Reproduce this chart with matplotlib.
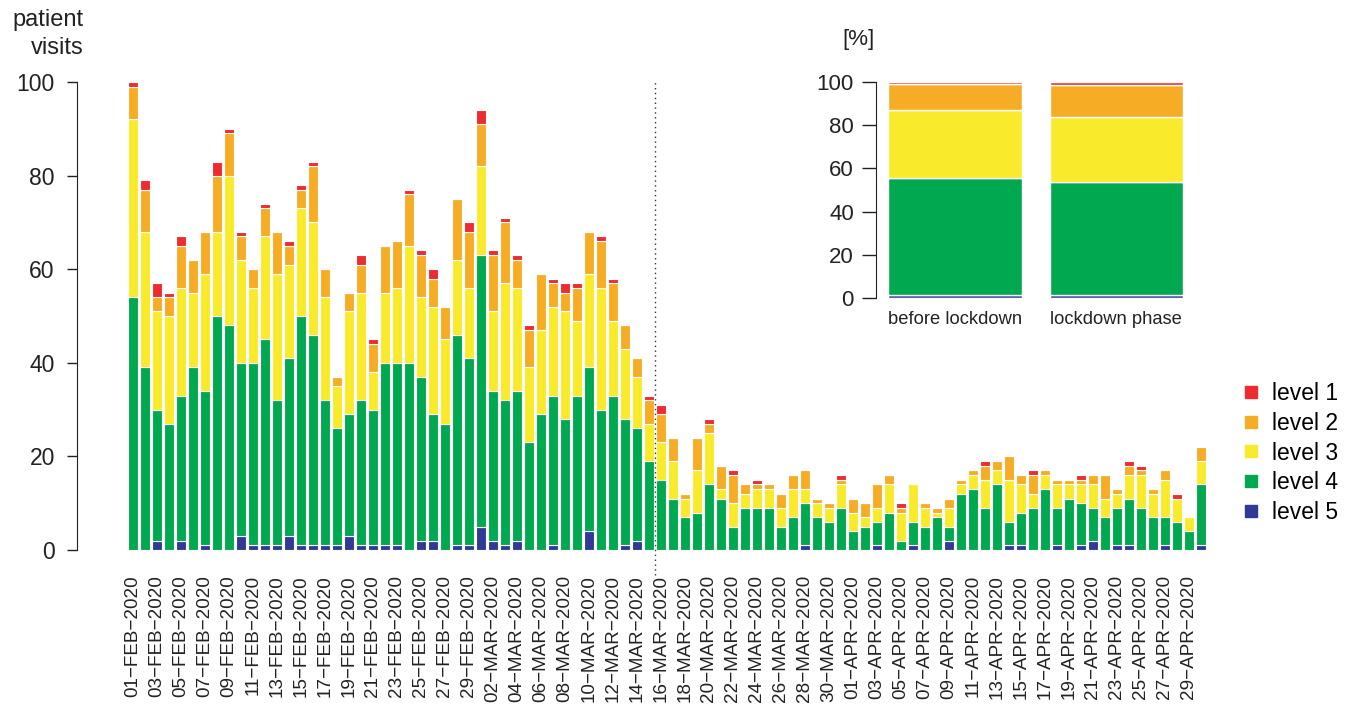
import numpy as np
import pandas as pd
import matplotlib
matplotlib.use("Agg")
import matplotlib.pyplot as plt
from matplotlib.lines import Line2D

plt.rcParams['font.family'] = ['Liberation Sans', 'DejaVu Sans']

# daily patient visits per triage level, 01-FEB-2020 .. 30-APR-2020
level1 = [1,2,3,1,2,0,0,3,1,1, 0,1,0,1,1,1,0,0,0,2, 1,0,0,1,1,2,0,0,2,3,
          1,1,1,1,0,1,2,1,0,1, 1,0,0,1,2,0,0,0,1,0, 1,0,1,0,0,0,0,0,0,1,
          0,0,0,0,1,0,0,0,0,0, 0,1,0,0,0,1,0,0,0,1, 0,0,0,1,1,0,0,1,0,0]
level2 = [7,9,3,4,9,7,9,12,9,5, 4,6,9,4,4,12,6,2,4,6, 6,10,10,11,9,6,7,13,12,9,
          12,13,6,8,12,5,4,7,9,10, 8,5,4,5,6,5,1,7,2,5, 6,2,1,1,3,3,4,1,1,1,
          3,3,5,2,1,0,1,1,2,1, 1,3,2,5,2,4,1,1,1,1, 2,5,1,2,1,1,2,0,0,3]
level3 = [38,29,21,23,23,16,25,18,32,22, 16,22,27,20,23,24,22,9,22,23, 8,15,16,25,17,23,18,16,15,19,
          17,25,22,16,18,19,23,16,20,26, 16,15,11,8,8,8,4,9,11,2, 5,3,4,4,4,6,3,3,3,5,
          4,2,3,6,6,8,4,1,4,2, 3,6,3,9,6,3,3,5,3,4, 5,4,3,5,7,5,8,5,3,5]
level4 = [54,39,28,27,31,39,33,50,48,37, 39,44,31,38,49,45,31,25,26,31, 29,39,39,40,35,27,27,45,40,58,
          32,31,32,23,29,32,28,33,35,30, 33,27,24,19,15,11,7,8,14,11, 5,9,9,9,5,7,9,7,6,9,
          4,5,5,8,2,5,5,7,3,12, 13,9,14,5,7,9,13,8,11,9, 7,7,8,10,9,7,6,6,4,13]
level5 = [0,0,2,0,2,0,1,0,0,3, 1,1,1,3,1,1,1,1,3,1, 1,1,1,0,2,2,0,1,1,5,
          2,1,2,0,0,1,0,0,4,0, 0,1,2,0,0,0,0,0,0,0, 0,0,0,0,0,0,1,0,0,0,
          0,0,1,0,0,1,0,0,2,0, 0,0,0,1,1,0,0,1,0,1, 2,0,1,1,0,0,1,0,0,1]

dates = pd.date_range('2020-02-01', '2020-04-30')
date_labels = [d.strftime('%d-%b-%Y').upper().replace('-', '\u2212') for d in dates]
lockdown_start = 44  # 16-MAR-2020

# inset: share of each level in percent
phases = ['before lockdown', 'lockdown phase']
pct_level1 = [1.2, 1.7]
pct_level2 = [11.9, 14.5]
pct_level3 = [31.2, 30.3]
pct_level4 = [54.3, 51.8]
pct_level5 = [1.4, 1.7]

colors = ['#EE2B31', '#F6AD25', '#F9EB2C', '#00A94F', '#303A96']
names = ['level 1', 'level 2', 'level 3', 'level 4', 'level 5']

W, H = 1357, 708
fig = plt.figure(figsize=(W / 100, H / 100), dpi=100)

# main chart
ax = fig.add_axes([127 / W, (H - 550) / H, 1080 / W, 468 / H])
x = np.arange(len(dates))
bottom = np.zeros(len(dates))
for vals, c in zip([level5, level4, level3, level2, level1], colors[::-1]):
    ax.bar(x, vals, 0.8, bottom=bottom, color=c, edgecolor='white', linewidth=0.8)
    bottom += np.array(vals)

ax.set_xlim(-0.5, len(dates) - 0.5)
ax.set_ylim(0, 100)
ax.vlines(lockdown_start - 0.5, -5.3, 100, colors='#333333', linestyles=(0, (1, 2.5)),
          linewidth=1, clip_on=False)
for s in ['top', 'right', 'bottom']:
    ax.spines[s].set_visible(False)
ax.spines['left'].set_position(('outward', 36))
ax.spines['left'].set_bounds(0, 100)
ax.spines['left'].set_color('#222222')
ax.set_yticks([0, 20, 40, 60, 80, 100])
ax.tick_params(axis='y', labelsize=16.5, length=7, width=1, pad=9, colors='#222222')
ax.set_xticks(x[::2])
ax.set_xticklabels(date_labels[::2], rotation=90, fontsize=13.6, color='#222222')
ax.tick_params(axis='x', length=0, pad=18)
fig.text(84 / W, 1 - 20 / H, 'patient', ha='right', va='center', fontsize=17, color='#222222')
fig.text(84 / W, 1 - 48 / H, 'visits', ha='right', va='center', fontsize=17, color='#222222')

# legend
handles = [Line2D([], [], marker='s', linestyle='none', markersize=8.8, color=c) for c in colors]
fig.legend(handles, names, loc='center left', bbox_to_anchor=(1230 / W, 1 - 453 / H),
           frameon=False, fontsize=16.5, handlelength=0.8, handletextpad=0.55,
           labelspacing=0.3, borderpad=0)

# inset with percentages
ax2 = fig.add_axes([876 / W, (H - 298.3) / H, 321 / W, 216.6 / H])
xi = np.arange(len(phases))
bottom = np.zeros(len(phases))
for vals, c in zip([pct_level5, pct_level4, pct_level3, pct_level2, pct_level1], colors[::-1]):
    ax2.bar(xi, vals, 0.826, bottom=bottom, color=c, edgecolor='white', linewidth=1)
    bottom += np.array(vals)
ax2.set_xlim(-0.49, 1.5)
ax2.set_ylim(0, 100)
for s in ['top', 'right', 'bottom']:
    ax2.spines[s].set_visible(False)
ax2.spines['left'].set_bounds(0, 100)
ax2.spines['left'].set_color('#222222')
ax2.set_yticks([0, 20, 40, 60, 80, 100])
ax2.tick_params(axis='y', labelsize=16, length=10, width=1, pad=6, colors='#222222')
ax2.set_xticks(xi)
ax2.set_xticklabels(phases, fontsize=13.2, color='#222222')
ax2.tick_params(axis='x', length=0, pad=9)
fig.text(858 / W, 1 - 40 / H, '[%]', ha='center', va='center', fontsize=16, color='#222222')

fig.savefig('out.png', dpi=100)
